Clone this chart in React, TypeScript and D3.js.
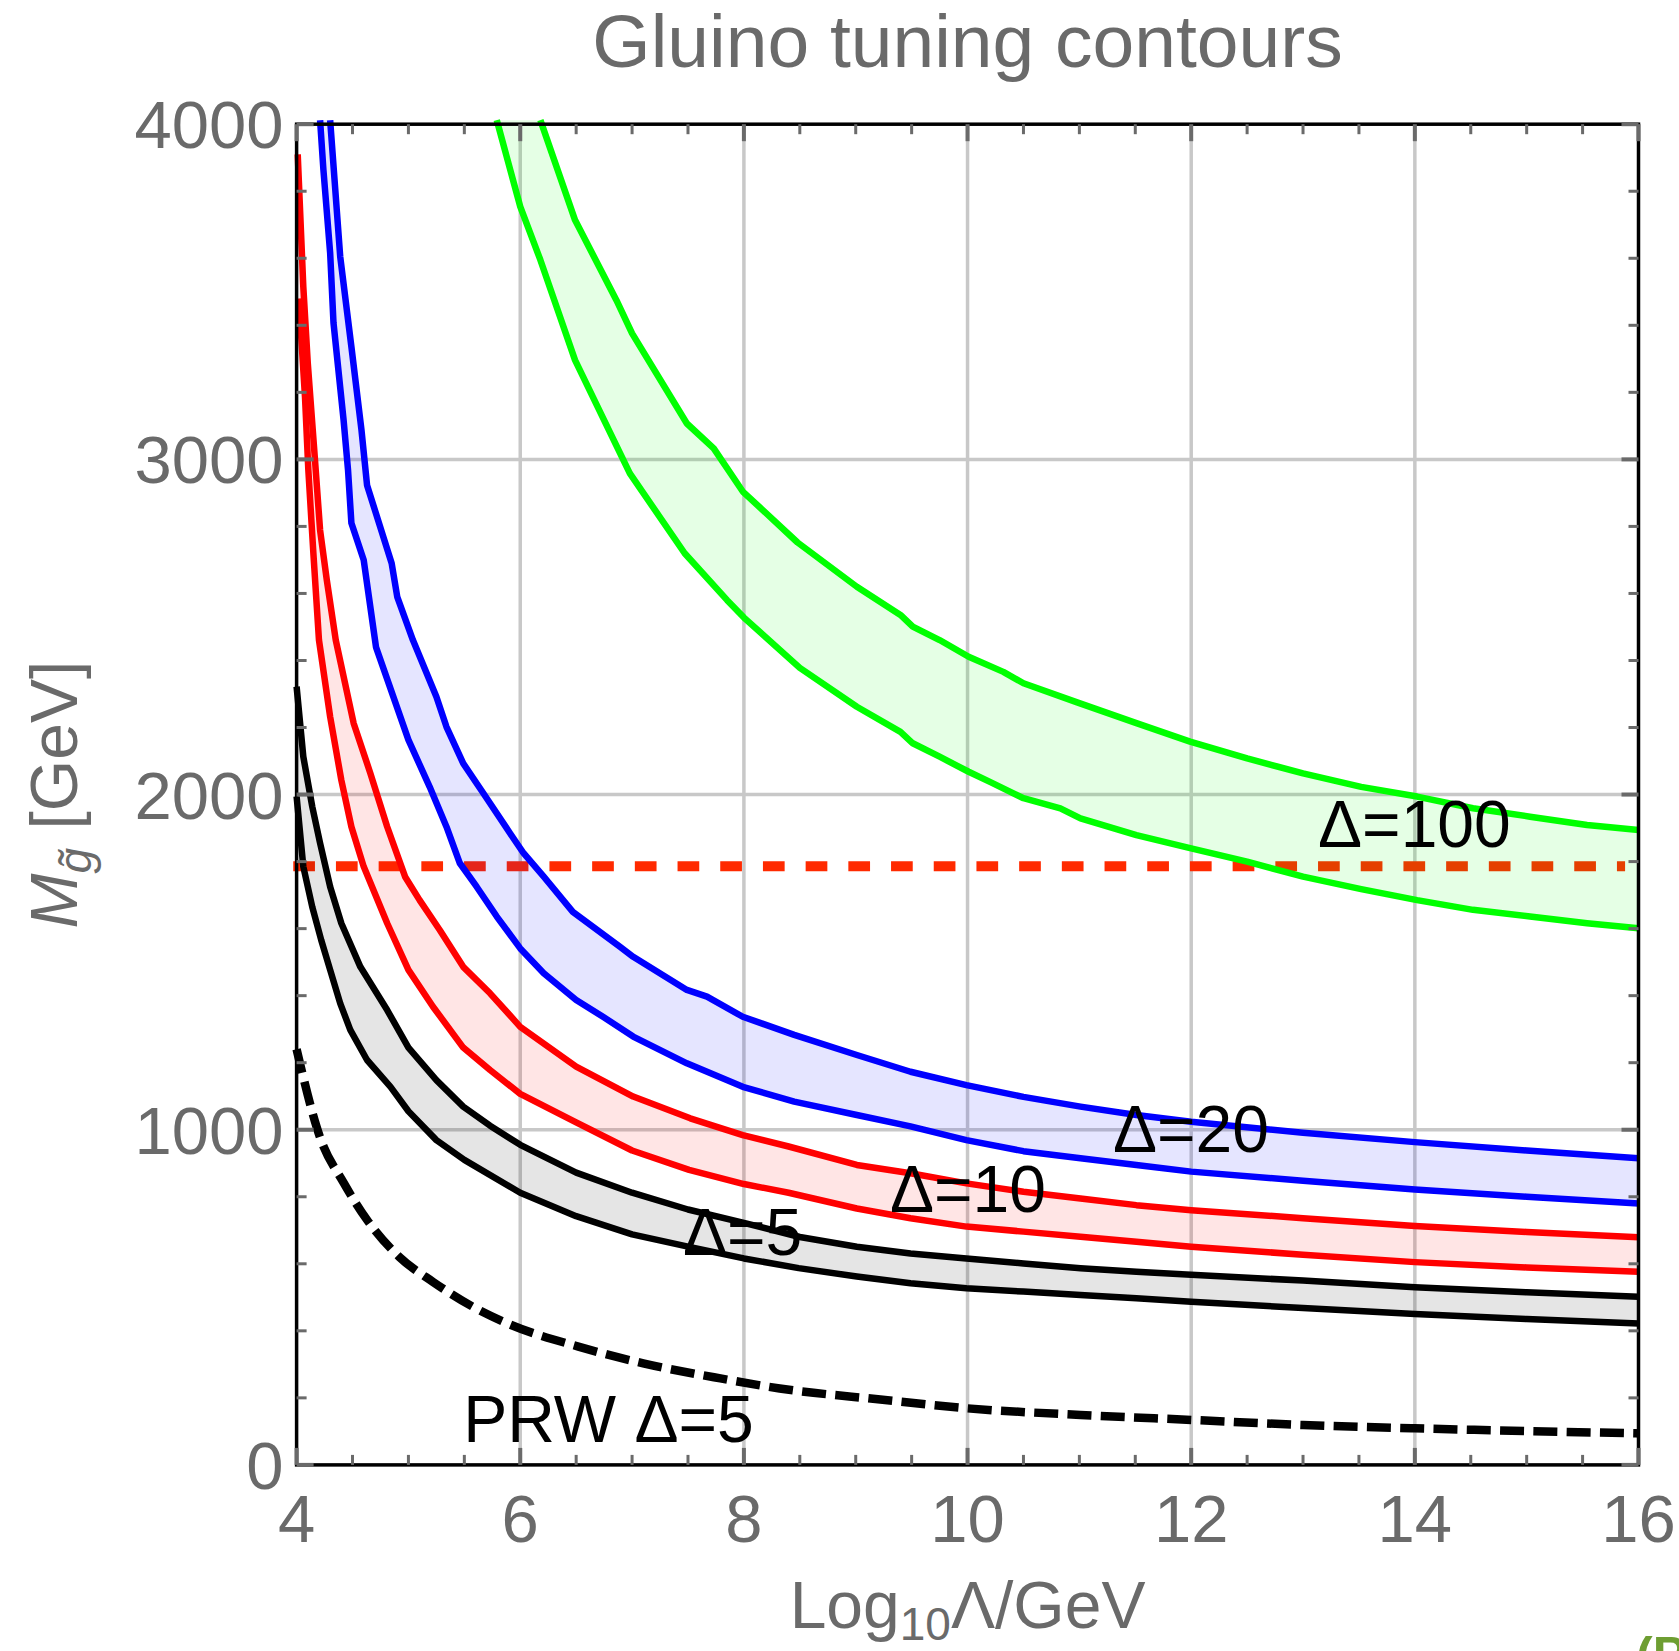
import React from "react";
import * as d3 from "d3";

type P = [number, number];

// ---- data (x = Log10 Λ/GeV, y = M_gluino in GeV) ----
const greenOuter: P[] = [[6.18,4012],[6.49,3714],[6.86,3475],[7.0,3376],[7.49,3107],[7.73,3033],[7.99,2904],[8.48,2752],[9.01,2620],[9.4,2536],[9.51,2501],[9.75,2461],[10.01,2411],[10.32,2366],[10.5,2332],[10.98,2275],[11.51,2213],[11.99,2158],[12.5,2108],[13.0,2063],[13.52,2023],[14.02,1994],[14.52,1959],[15.03,1934],[15.54,1909],[16.0,1894]];
const greenInner: P[] = [[5.79,4012],[6.0,3754],[6.18,3595],[6.49,3296],[6.98,2958],[7.47,2720],[7.85,2580],[8.0,2528],[8.5,2378],[9.01,2262],[9.4,2187],[9.51,2153],[9.75,2113],[10.01,2068],[10.2,2038],[10.5,1989],[10.83,1959],[11.01,1929],[11.51,1879],[11.99,1840],[12.5,1800],[13.0,1755],[13.52,1718],[14.02,1685],[14.52,1656],[15.03,1636],[15.54,1616],[16.0,1601]];
const blueOuter: P[] = [[4.3,4012],[4.39,3605],[4.49,3336],[4.58,3088],[4.63,2923],[4.85,2690],[4.9,2590],[5.04,2461],[5.25,2292],[5.34,2202],[5.49,2093],[5.67,2004],[5.91,1884],[6.03,1825],[6.21,1755],[6.47,1650],[6.89,1546],[7.01,1516],[7.49,1417],[7.67,1397],[7.99,1337],[8.45,1283],[9.01,1223],[9.49,1173],[9.99,1133],[10.5,1098],[11.01,1069],[11.51,1044],[12.0,1024],[13.0,991],[14.0,963],[15.0,938],[16.0,915]];
const blueInner: P[] = [[4.21,4012],[4.24,3863],[4.3,3616],[4.33,3407],[4.42,3118],[4.46,2968],[4.49,2810],[4.6,2700],[4.71,2440],[5.0,2163],[5.19,2023],[5.34,1904],[5.46,1795],[5.61,1725],[5.79,1636],[6.0,1541],[6.21,1467],[6.5,1387],[6.74,1337],[7.01,1278],[7.49,1198],[7.99,1128],[8.45,1084],[9.01,1044],[9.49,1010],[9.99,969],[10.5,936],[11.01,915],[11.51,895],[12.0,875],[13.0,848],[14.0,822],[15.0,800],[16.0,780]];
const redOuter: P[] = [[4.01,3910],[4.06,3515],[4.1,3287],[4.16,3018],[4.21,2789],[4.27,2640],[4.35,2461],[4.51,2213],[4.66,2063],[4.81,1904],[4.97,1755],[5.1,1685],[5.28,1596],[5.49,1486],[5.73,1407],[6.0,1307],[6.5,1188],[7.01,1099],[7.52,1034],[7.99,984],[8.4,950],[9.01,895],[9.49,870],[9.99,840],[10.5,815],[11.01,795],[11.51,775],[12.0,760],[13.0,736],[14.0,713],[15.0,695],[16.0,679]];
const redInner: P[] = [[4.02,3480],[4.075,3187],[4.105,2968],[4.15,2720],[4.2,2461],[4.3,2232],[4.4,2043],[4.49,1904],[4.6,1785],[4.81,1616],[5.0,1477],[5.22,1367],[5.49,1245],[5.73,1178],[6.0,1107],[6.5,1022],[7.0,938],[7.51,880],[8.0,838],[8.4,812],[9.01,765],[9.49,736],[9.99,711],[10.5,696],[11.01,681],[11.51,666],[12.0,651],[13.0,627],[14.0,605],[15.0,589],[16.0,576]];
const blackOuter: P[] = [[4.0,2322],[4.06,2113],[4.14,1964],[4.21,1855],[4.3,1725],[4.4,1616],[4.57,1486],[4.81,1357],[5.0,1245],[5.25,1148],[5.49,1069],[5.73,1012],[6.0,955],[6.5,872],[7.0,812],[7.5,762],[8.0,722],[8.5,680],[9.01,651],[9.49,631],[9.99,616],[10.5,601],[11.01,587],[11.51,576],[12.0,567],[13.0,550],[14.0,530],[15.0,515],[16.0,502]];
const blackInner: P[] = [[4.0,1994],[4.06,1785],[4.14,1665],[4.22,1566],[4.3,1477],[4.39,1377],[4.48,1298],[4.63,1208],[4.84,1128],[5.0,1055],[5.25,969],[5.5,910],[6.0,812],[6.5,742],[7.0,688],[7.5,651],[8.0,616],[8.49,587],[9.01,562],[9.49,542],[9.99,527],[10.5,517],[11.01,507],[11.51,497],[12.0,487],[13.0,468],[14.0,450],[15.0,435],[16.0,422]];
const prwLine: P[] = [[4.0,1240],[4.21,977],[4.42,842],[4.63,731],[4.92,620],[5.22,546],[5.58,471],[5.9,420],[6.52,353],[7.1,303],[7.79,258],[8.32,228],[9.22,195],[9.99,169],[11.01,149],[12.02,134],[13.0,119],[14.0,109],[15.0,101],[16.0,94]];
const limitLine: P[] = [[3.97,1786],[15.88,1786]];

const xMajorTicks = [4, 6, 8, 10, 12, 14, 16];
const yMajorTicks = [0, 1000, 2000, 3000, 4000];
const xGrid = [6, 8, 10, 12, 14];
const yGrid = [1000, 2000, 3000];

const bands = [
  { name: "green", color: "#00ff00", inner: greenInner, outer: greenOuter },
  { name: "blue", color: "#0000ff", inner: blueInner, outer: blueOuter },
  { name: "red", color: "#ff0000", inner: redInner, outer: redOuter },
  { name: "black", color: "#000000", inner: blackInner, outer: blackOuter },
];

const labels = [
  { text: "Δ=100", x: 13.134, y: 1843 },
  { text: "Δ=20", x: 11.3, y: 933 },
  { text: "Δ=10", x: 9.306, y: 754 },
  { text: "Δ=5", x: 7.455, y: 626 },
  { text: "PRW Δ=5", x: 5.491, y: 68 },
];

const W = 1679, H = 1651;
const L = 296.6, R = 1638.5, T = 124.2, B = 1464.9;
const FONT = "'Liberation Sans', Arial, Helvetica, sans-serif";
const GRAY = "#6a6a6a";

export default function App() {
  const x = d3.scaleLinear().domain([4, 16]).range([L, R]);
  const y = d3.scaleLinear().domain([0, 4000]).range([B, T]);
  const line = d3.line<P>().x((d) => x(d[0])).y((d) => y(d[1])).curve(d3.curveLinear);
  const smooth = d3.line<P>().x((d) => x(d[0])).y((d) => y(d[1])).curve(d3.curveMonotoneX);

  const xMinor = d3.range(4, 16.001, 0.5).filter((v) => !xMajorTicks.includes(v));
  const yMinor = d3.range(0, 4000.1, 200).filter((v) => !yMajorTicks.includes(v));

  const tickMaj = 17, tickMin = 10;
  const LW = 6.5;

  return (
    <svg width={W} height={H} viewBox={`0 0 ${W} ${H}`}
      style={{ position: "absolute", left: 0, top: 0, display: "block", background: "#fff" }}
      fontFamily={FONT}>
      <rect x={0} y={0} width={W} height={H} fill="#fff" />
      {/* title */}
      <text x={(L + R) / 2} y={67} textAnchor="middle" fontSize={75} fill={GRAY}>Gluino tuning contours</text>

      {/* grid */}
      {xGrid.map((v) => (
        <line key={"gx" + v} x1={x(v)} x2={x(v)} y1={T} y2={B} stroke="#c8c8c8" strokeWidth={3.5} />
      ))}
      {yGrid.map((v) => (
        <line key={"gy" + v} x1={L} x2={R} y1={y(v)} y2={y(v)} stroke="#c8c8c8" strokeWidth={3.5} />
      ))}

      {/* experimental limit */}
      <path d={line(limitLine) || ""} fill="none" stroke="#ff2a00" strokeWidth={10} strokeDasharray="21.7 21" />

      {/* bands */}
      {bands.map((b) => (
        <path key={"f" + b.name} d={(line([...b.inner, ...b.outer.slice().reverse()]) || "") + "Z"}
          fill={b.color} fillOpacity={0.1} stroke="none" />
      ))}
      {bands.map((b) => (
        <g key={"l" + b.name}>
          <path d={line(b.inner) || ""} fill="none" stroke={b.color} strokeWidth={LW} strokeLinejoin="round" />
          <path d={line(b.outer) || ""} fill="none" stroke={b.color} strokeWidth={LW} strokeLinejoin="round" />
        </g>
      ))}
      <path d={smooth(prwLine) || ""} fill="none" stroke="#000" strokeWidth={8.5} strokeDasharray="24 9.3" />

      {/* frame */}
      <rect x={L} y={T} width={R - L} height={B - T} fill="none" stroke="#000" strokeWidth={3.5} />

      {/* ticks */}
      {xMajorTicks.map((v) => (
        <g key={"xt" + v}>
          <line x1={x(v)} x2={x(v)} y1={B} y2={B - tickMaj} stroke={GRAY} strokeWidth={4} />
          <line x1={x(v)} x2={x(v)} y1={T} y2={T + tickMaj} stroke={GRAY} strokeWidth={4} />
        </g>
      ))}
      {xMinor.map((v) => (
        <g key={"xm" + v}>
          <line x1={x(v)} x2={x(v)} y1={B} y2={B - tickMin} stroke={GRAY} strokeWidth={3} />
          <line x1={x(v)} x2={x(v)} y1={T} y2={T + tickMin} stroke={GRAY} strokeWidth={3} />
        </g>
      ))}
      {yMajorTicks.map((v) => (
        <g key={"yt" + v}>
          <line x1={L} x2={L + tickMaj} y1={y(v)} y2={y(v)} stroke={GRAY} strokeWidth={4} />
          <line x1={R} x2={R - tickMaj} y1={y(v)} y2={y(v)} stroke={GRAY} strokeWidth={4} />
        </g>
      ))}
      {yMinor.map((v) => (
        <g key={"ym" + v}>
          <line x1={L} x2={L + tickMin} y1={y(v)} y2={y(v)} stroke={GRAY} strokeWidth={3} />
          <line x1={R} x2={R - tickMin} y1={y(v)} y2={y(v)} stroke={GRAY} strokeWidth={3} />
        </g>
      ))}

      {/* tick labels */}
      {xMajorTicks.map((v) => (
        <text key={"xl" + v} x={x(v)} y={B + 77} textAnchor="middle" fontSize={67} fill={GRAY}>{v}</text>
      ))}
      {yMajorTicks.map((v) => (
        <text key={"yl" + v} x={L - 13} y={y(v) + 24} textAnchor="end" fontSize={67} fill={GRAY}>{v}</text>
      ))}

      {/* axis labels */}
      <text x={(L + R) / 2} y={1628} textAnchor="middle" fontSize={66} fill={GRAY}>
        Log<tspan fontSize={46} dy={12}>10</tspan><tspan dy={-12}>Λ/GeV</tspan>
      </text>
      <text transform={`translate(77,${(T + B) / 2}) rotate(-90)`} textAnchor="middle" fontSize={66} fill={GRAY}>
        <tspan fontStyle="italic">M</tspan>
        <tspan fontStyle="italic" fontSize={46} dy={14}>g̃</tspan>
        <tspan dy={-14}> [GeV]</tspan>
      </text>

      {/* contour labels */}
      {labels.map((l) => (
        <text key={l.text} x={x(l.x)} y={y(l.y)} fontSize={66} fill="#000">{l.text}</text>
      ))}

      <text x={1636} y={1672} fontSize={50} fontWeight="bold" fill="#6e9e32">(P</text>
    </svg>
  );
}
